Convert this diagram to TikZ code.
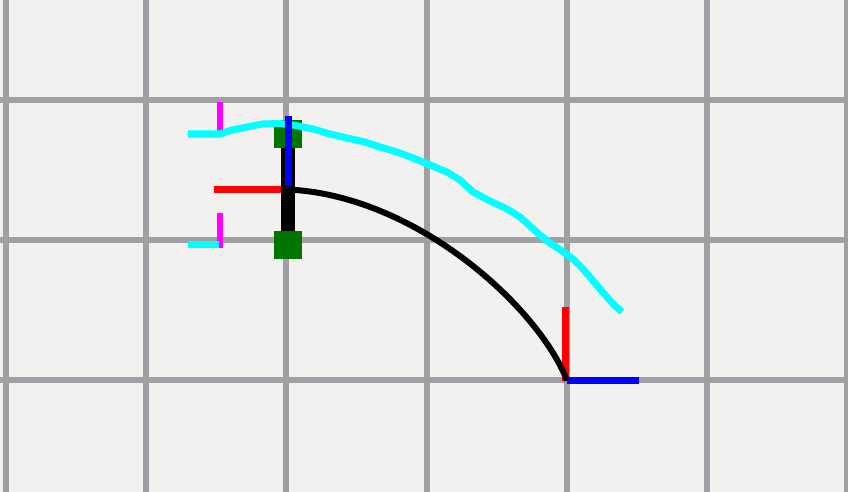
\documentclass[tikz,border=0pt]{standalone}
\usetikzlibrary{calc}
\definecolor{bgc}{RGB}{242,241,240}
\definecolor{gridc}{RGB}{160,159,164}
\definecolor{greenc}{RGB}{0,118,0}
\definecolor{cyanc}{RGB}{0,255,255}
\definecolor{magc}{RGB}{255,0,255}
\tikzset{
  gridline/.style={draw=gridc, line width=6pt},
  sq/.style={fill=greenc, draw=none, minimum size=28pt, inner sep=0pt, outer sep=0pt},
  redax/.style={draw=red, line width=7pt},
  blueax/.style={draw=blue, line width=7pt},
  cyanln/.style={draw=cyanc, line width=7pt, line join=round},
  magln/.style={draw=magc, line width=6pt},
  blackln/.style={draw=black, line width=6pt}
}
\begin{document}
\begin{tikzpicture}[x=1pt,y=-1pt]
\fill[bgc] (0,0) rectangle (848,492);
\useasboundingbox (0,0) rectangle (848,492);
% grid
\foreach \gx in {6,146.2,286.4,426.6,566.8,707,847.2}
  \draw[gridline] (\gx,0) -- (\gx,492);
\foreach \gy in {100,240.2,380.4}
  \draw[gridline] (0,\gy) -- (848,\gy);
% coordinates
\coordinate (jt) at (288,189.5);
\coordinate (ce) at (567,380.5);
% top-left red axis
\draw[redax] (214,189.5) -- (284,189.5);
% black vertical bar
\draw[draw=black, line width=14pt] (288,134) -- (288,245);
% green squares
\node[sq] (sqa) at (288,134) {};
\node[sq] (sqb) at (288,245) {};
% magenta markers
\draw[magln] (219.5,102) -- (219.5,132);
\draw[magln] (219.5,213) -- (219.5,247.5);
% cyan path
\draw[cyanln] (188,134) -- (220,134) -- (232,130) -- (247,127) -- (262,124) -- (280,123.5) -- (296,125.5) -- (313,129) -- (330,134) -- (347,138) -- (365,142) -- (380,147) -- (397,152) -- (413,158) -- (430,165) -- (447,172) -- (460,180) -- (473,192) -- (490,201) -- (507,209) -- (520,217) -- (530,226) -- (540,235) -- (550,243) -- (562,251) -- (573,259) -- (582,268) -- (590,277) -- (599,288) -- (607,297) -- (614,305) -- (622,312);
\draw[cyanln] (188,244.5) -- (219,244.5);
% top-left blue axis
\draw[blueax] (288.5,116) -- (288.5,186);
% bottom-right frame
\draw[redax] (565.5,307) -- (565.5,380.5);
\draw[blueax] (ce) -- (639,380.5);
% black curve
\draw[blackln] (jt) .. controls (417,195.5) and (539,308) .. (ce);
\end{tikzpicture}
\end{document}
